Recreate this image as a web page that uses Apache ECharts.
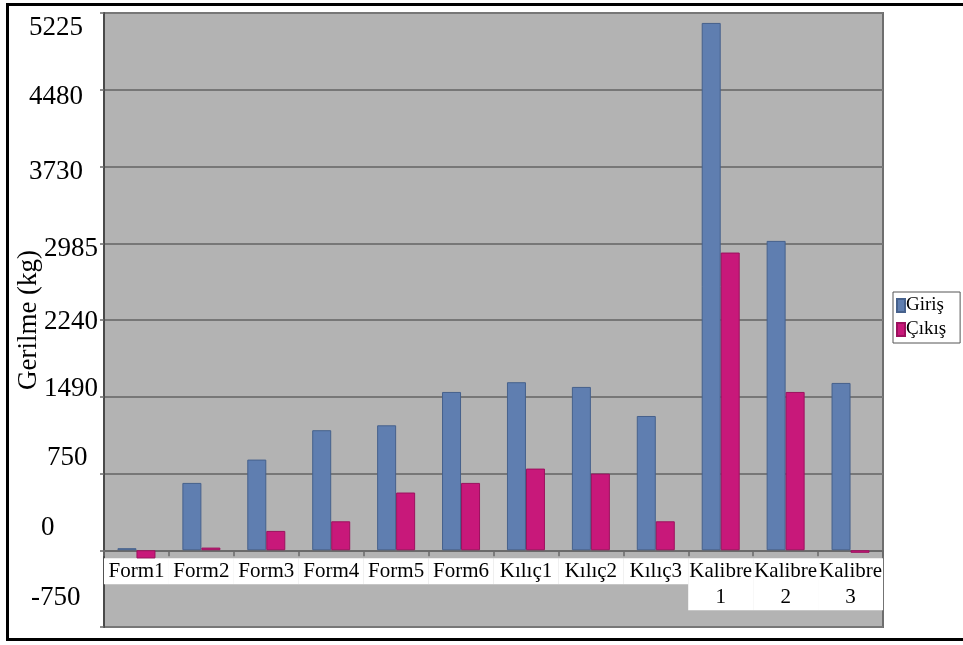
<!DOCTYPE html>
<html>
<head>
<meta charset="utf-8">
<title>Gerilme (kg)</title>
<script src="https://cdn.jsdelivr.net/npm/echarts@6/dist/echarts.min.js"></script>
<style>
  html, body { margin: 0; padding: 0; background: #ffffff; }
  #chart { width: 963px; height: 645px; }
</style>
</head>
<body>
<div id="chart"></div>
<script>
// Categories (samples)
const categories = ['Form1', 'Form2', 'Form3', 'Form4', 'Form5', 'Form6',
  'Kılıç1', 'Kılıç2', 'Kılıç3', 'Kalibre 1', 'Kalibre 2', 'Kalibre 3'];

// Tension values, kg
const girisValues = [20, 658, 886, 1173, 1221, 1547, 1642, 1596, 1312, 5153, 3023, 1635];
const cikisValues = [-80, 26, 189, 283, 564, 658, 798, 749, 283, 2909, 1547, -25];

// Tick labels printed along the value axis (top to bottom)
const yTickLabels = ['5225', '4480', '3730', '2985', '2240', '1490', '750', '0', '-750'];
// Where each tick label sits, in axis units
const yTickAnchors = [5101, 4427, 3694, 2941, 2228, 1573, 899, 215, -469];
// Left padding of each tick label, px
const yTickIndent = [0, 0, 0, 15, 15, 15, 18, 12, 2];

const Y_MIN = -750, Y_MAX = 5250;
const GRID = { left: 104, right: 80, top: 13, bottom: 18 };
const CHART_H = 645;

const serif = '"Liberation Serif", "DejaVu Serif", "Times New Roman", serif';

const rich = {};
yTickIndent.forEach((p, i) => {
  rich['t' + i] = { fontFamily: serif, fontSize: 27, color: '#000', padding: [0, 0, 0, p] };
});

// The category axis runs along the zero line of the value axis
const plotH = CHART_H - GRID.top - GRID.bottom;
const zeroOffset = -plotH * (0 - Y_MIN) / (Y_MAX - Y_MIN);

const chart = echarts.init(document.getElementById('chart'), null, { renderer: 'canvas' });

chart.setOption({
  animation: false,
  backgroundColor: '#ffffff',
  grid: {
    left: GRID.left, right: GRID.right, top: GRID.top, bottom: GRID.bottom,
    outerBoundsMode: 'none',
    containLabel: false,
    show: true,
    backgroundColor: '#b3b3b3',
    borderColor: '#6e6e6e',
    borderWidth: 2
  },
  legend: {
    orient: 'vertical',
    left: 893, top: 292,
    data: ['Giriş', 'Çıkış'],
    backgroundColor: '#ffffff',
    borderColor: '#555555',
    borderWidth: 1,
    padding: [4, 14, 4, 3],
    itemWidth: 8, itemHeight: 13, itemGap: 5,
    icon: 'rect',
    textStyle: { fontFamily: serif, fontSize: 19, color: '#000', padding: [0, 0, 0, -4] }
  },
  xAxis: {
    type: 'category',
    data: categories,
    position: 'bottom',
    offset: zeroOffset,
    axisLine: { show: true, onZero: false, lineStyle: { color: '#6a6a6a', width: 2 } },
    axisTick: { show: true, length: 6, lineStyle: { color: '#6a6a6a', width: 1.5 } },
    axisLabel: {
      interval: 0,
      margin: 8,
      fontFamily: serif,
      fontSize: 21,
      lineHeight: 26,
      color: '#000',
      backgroundColor: '#ffffff',
      width: 65,
      align: 'center',
      padding: [0, 0, 0, 0],
      formatter: v => v.replace(' ', '\n')
    },
    splitLine: { show: false }
  },
  yAxis: [
    {
      type: 'value',
      min: Y_MIN, max: Y_MAX, interval: 750,
      name: 'Gerilme (kg)',
      nameLocation: 'middle',
      nameGap: 62,
      nameTextStyle: { fontFamily: serif, fontSize: 27, color: '#000' },
      axisLine: { show: true, onZero: false, lineStyle: { color: '#4a4a4a', width: 2 } },
      axisTick: { show: true, length: 4, lineStyle: { color: '#6a6a6a', width: 1.5 } },
      axisLabel: { show: false },
      splitLine: { show: true, lineStyle: { color: '#777777', width: 2 } }
    },
    {
      type: 'value',
      position: 'left',
      min: Y_MIN, max: Y_MAX,
      axisLine: { show: false, onZero: false },
      axisTick: { show: false },
      splitLine: { show: false },
      axisLabel: {
        show: true,
        customValues: yTickAnchors,
        align: 'left',
        margin: GRID.left - 29,
        formatter: function (v) {
          let i = 0, best = Infinity;
          yTickAnchors.forEach((a, k) => { const d = Math.abs(a - v); if (d < best) { best = d; i = k; } });
          return '{t' + i + '|' + yTickLabels[i] + '}';
        },
        rich: rich
      }
    }
  ],
  series: [
    {
      name: 'Giriş',
      type: 'bar',
      data: girisValues,
      barWidth: 19,
      barGap: '0%',
      itemStyle: { color: '#5f7eb0', borderColor: '#46618c', borderWidth: 1 }
    },
    {
      name: 'Çıkış',
      type: 'bar',
      data: cikisValues,
      barWidth: 19,
      itemStyle: { color: '#c8187a', borderColor: '#9c115e', borderWidth: 1 }
    }
  ],
  graphic: [
    {
      type: 'rect',
      silent: true,
      shape: { x: 7.5, y: 4.5, width: 1000, height: 635 },
      style: { fill: 'none', stroke: '#000000', lineWidth: 3 },
      z: 100
    }
  ]
});
</script>
</body>
</html>
